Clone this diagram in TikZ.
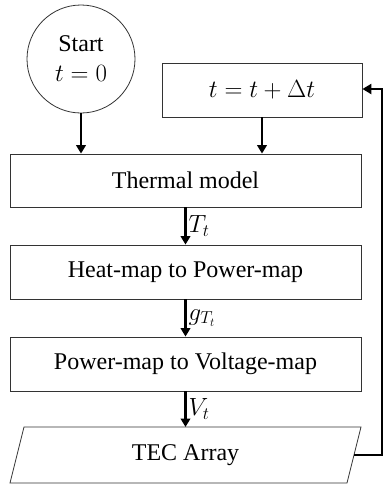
\documentclass[tikz,border=0pt]{standalone}
\usepackage{fontspec}
\setmainfont{Liberation Serif}
\usetikzlibrary{arrows.meta}
\begin{document}
\begin{tikzpicture}[x=1pt,y=-1pt,
  boxst/.style={draw=black!80,line width=0.8pt,rectangle,minimum height=53pt,inner sep=0pt,font=\fontsize{24}{28}\selectfont},
  flow/.style={line width=2.3pt,-{Triangle[width=9.5pt,length=8.5pt]}},
  lab/.style={anchor=west,inner sep=1pt,font=\fontsize{24}{28}\selectfont}]
\useasboundingbox (0,0) rectangle (384,485);
\node[draw=black!80,line width=0.8pt,circle,minimum size=108pt,inner sep=0pt,align=center,font=\fontsize{24}{30}\selectfont] (start) at (81,59) {Start\\$t=0$};
\node[boxst,minimum width=200pt,minimum height=54pt] (tbox) at (262,90) {$t=t+\Delta t$};
\node[boxst,minimum width=351pt] (thermal) at (185.5,180.5) {Thermal model};
\node[boxst,minimum width=351pt,minimum height=54pt] (heat) at (185.5,272) {Heat-map to Power-map};
\node[boxst,minimum width=351pt,minimum height=54pt] (power) at (185.5,364) {Power-map to Voltage-map};
\node[inner sep=0pt,font=\fontsize{24}{28}\selectfont] (tec) at (185.5,455) {TEC Array};
\draw[black!80,line width=0.8pt] (24,427) -- (361,427) -- (347,483) -- (10,483) -- cycle;
\coordinate (tecr) at (354,455);
\coordinate (c1) at (382,455);
\coordinate (c2) at (382,89);
\draw[flow] (start.south) -- (start.south |- thermal.north);
\draw[flow] (tbox.south) -- (tbox.south |- thermal.north);
\draw[flow] (thermal.south) -- (heat.north) node[lab,midway,xshift=1pt] {$T_t$};
\draw[flow] (heat.south) -- (power.north) node[lab,midway,xshift=1pt] {$g_{T_t}$};
\draw[flow] (power.south) -- (185.5,427) node[lab,midway,xshift=1pt] {$V_t$};
\draw[line width=2.8pt,-{Triangle[width=10pt,length=9pt]}] (tecr) -- (c1) -- (c2) -- (tbox.east |- c2);
\end{tikzpicture}
\end{document}
